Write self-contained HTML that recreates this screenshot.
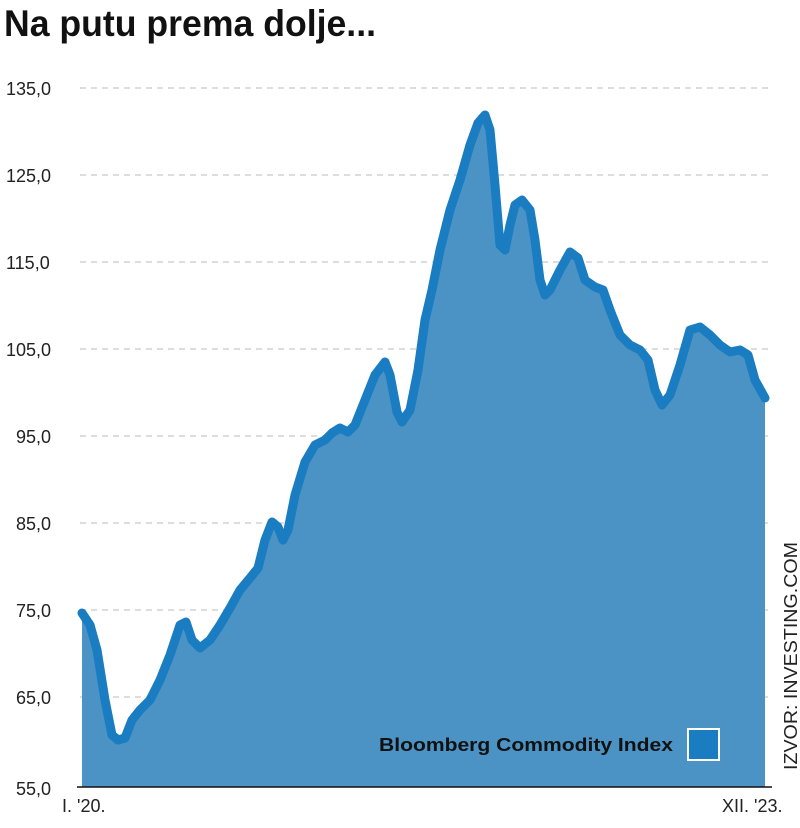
<!DOCTYPE html>
<html><head><meta charset="utf-8"><style>
body{margin:0;background:#fff;width:800px;height:828px;overflow:hidden}
svg{display:block}
</style></head><body>
<svg width="800" height="828" viewBox="0 0 800 828" xmlns="http://www.w3.org/2000/svg" font-family="Liberation Sans, sans-serif">
<text x="4" y="36" font-size="37" font-weight="bold" fill="#111" textLength="372" lengthAdjust="spacingAndGlyphs">Na putu prema dolje...</text>
<g stroke="#bbb" stroke-width="1" stroke-dasharray="6,5">
<line x1="80" x2="772" y1="88" y2="88"/><line x1="80" x2="772" y1="175" y2="175"/>
<line x1="80" x2="772" y1="262" y2="262"/><line x1="80" x2="772" y1="349" y2="349"/>
<line x1="80" x2="772" y1="436" y2="436"/><line x1="80" x2="772" y1="523" y2="523"/>
<line x1="80" x2="772" y1="610" y2="610"/><line x1="80" x2="772" y1="697" y2="697"/>
</g>
<g font-size="18" fill="#222">
<text x="6" y="95">135,0</text><text x="6" y="182">125,0</text><text x="6" y="269">115,0</text>
<text x="6" y="356">105,0</text><text x="16" y="443">95,0</text><text x="16" y="530">85,0</text>
<text x="16" y="617">75,0</text><text x="16" y="704">65,0</text><text x="16" y="795">55,0</text>
<text x="62" y="812">I. '20.</text><text x="722" y="812">XII. '23.</text>
</g>
<path id="d" d="M82,613 L90,625 97,650 105,700 112,735 118,740 125,738 132,720 140,710 150,700 160,680 170,655 180,625 186,622 192,640 200,648 210,640 220,625 230,608 240,590 250,578 258,568 265,540 272,522 278,527 283,540 288,530 295,495 305,462 315,445 325,440 332,433 340,428 348,432 355,425 365,400 375,375 385,362 390,375 397,412 402,422 410,410 418,370 425,320 432,290 440,250 450,210 460,180 470,145 478,123 485,115 490,130 495,185 500,245 505,250 510,225 515,205 522,200 530,210 535,240 540,280 545,295 550,290 560,270 570,252 578,258 585,280 595,287 603,290 610,310 620,335 630,345 640,350 648,360 655,390 662,405 670,395 680,365 690,330 700,327 710,335 720,345 730,352 740,350 748,355 755,380 765,398" fill="none"/>
<path d="M82,613 L90,625 97,650 105,700 112,735 118,740 125,738 132,720 140,710 150,700 160,680 170,655 180,625 186,622 192,640 200,648 210,640 220,625 230,608 240,590 250,578 258,568 265,540 272,522 278,527 283,540 288,530 295,495 305,462 315,445 325,440 332,433 340,428 348,432 355,425 365,400 375,375 385,362 390,375 397,412 402,422 410,410 418,370 425,320 432,290 440,250 450,210 460,180 470,145 478,123 485,115 490,130 495,185 500,245 505,250 510,225 515,205 522,200 530,210 535,240 540,280 545,295 550,290 560,270 570,252 578,258 585,280 595,287 603,290 610,310 620,335 630,345 640,350 648,360 655,390 662,405 670,395 680,365 690,330 700,327 710,335 720,345 730,352 740,350 748,355 755,380 765,398 L765,787 L82,787 Z" fill="#4b93c4"/>
<use href="#d" stroke="#1a7cc1" stroke-width="9" stroke-linejoin="round" stroke-linecap="round"/>
<line x1="77" x2="772" y1="787" y2="787" stroke="#111" stroke-width="1.5"/>
<text x="379" y="751" font-size="18" font-weight="bold" fill="#111" textLength="294" lengthAdjust="spacingAndGlyphs">Bloomberg Commodity Index</text>
<rect x="688" y="729" width="31" height="31" fill="#1a7cc1" stroke="#fff" stroke-width="2"/>
<text transform="translate(797,770) rotate(-90)" font-size="18" fill="#222" textLength="228" lengthAdjust="spacingAndGlyphs">IZVOR: INVESTING.COM</text>
</svg>
</body></html>
